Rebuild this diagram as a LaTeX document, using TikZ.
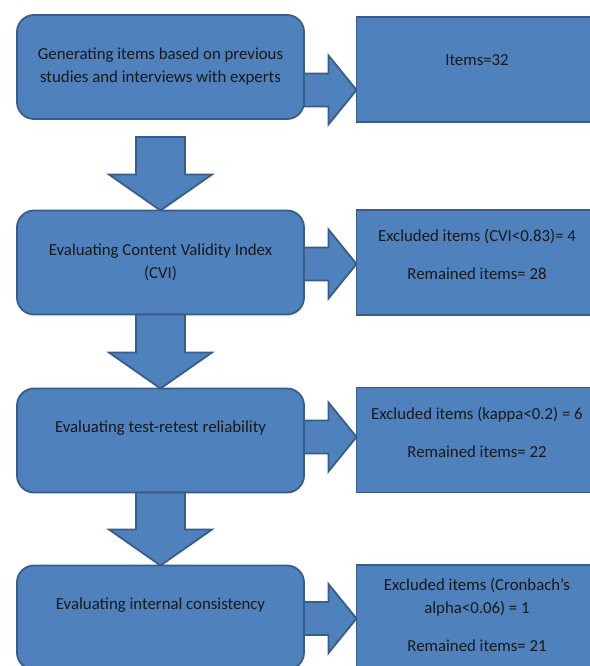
\documentclass[tikz,border=0pt]{standalone}
\usepackage{fontspec}
\setmainfont{Carlito}
\usepackage{xcolor}
\usepackage{tikz}
\usetikzlibrary{calc}

\definecolor{boxfill}{HTML}{4F81BD}
\definecolor{boxline}{HTML}{385D8A}

\tikzset{
  stepbox/.style={draw=boxline, fill=boxfill, line width=1.8pt, rounded corners=17pt,
    minimum width=287pt, minimum height=104pt, outer sep=0pt, inner sep=0pt},
  countbox/.style={draw=boxline, fill=boxfill, line width=1.8pt,
    minimum width=241pt, minimum height=105pt, outer sep=0pt, inner sep=0pt},
  boxtext/.style={align=center, text=black!90, inner sep=0pt,
    font=\fontsize{16.8}{23}\selectfont},
  blockarrow/.style={draw=boxline, fill=boxfill, line width=1.8pt, line join=miter}
}

% block arrows: #1 start, #2 tip
\newcommand{\blockdown}[2]{%
  \draw[blockarrow] let \p1=(#1), \p2=(#2) in
    ({\x2-24.5pt},\y1) -- ({\x2+24.5pt},\y1) -- ({\x2+24.5pt},{\y2+36pt})
    -- ({\x2+51.5pt},{\y2+36pt}) -- (\x2,\y2) -- ({\x2-51.5pt},{\y2+36pt})
    -- ({\x2-24.5pt},{\y2+36pt}) -- cycle;}
\newcommand{\blockright}[2]{%
  \draw[blockarrow] let \p1=(#1), \p2=(#2) in
    (\x1,{\y1+16.5pt}) -- ({\x2-28pt},{\y1+16.5pt}) -- ({\x2-28pt},{\y1+34.5pt})
    -- (\x2,\y1) -- ({\x2-28pt},{\y1-34.5pt}) -- ({\x2-28pt},{\y1-16.5pt})
    -- (\x1,{\y1-16.5pt}) -- cycle;}

\begin{document}
\begin{tikzpicture}[x=1pt, y=-1pt]
    \useasboundingbox (0,0) rectangle (589,666);
    \fill[white] (0,0) rectangle (589,666);

    % Steps
    \node[stepbox] (gen) at (160.5,67) {};
    \node[stepbox] (cvi) at (160.5,262.5) {};
    \node[stepbox] (retest) at (160.5,440.5) {};
    \node[stepbox] (consist) at (160.5,617.5) {};

    % Item counts
    \node[countbox] (items) at (477,69.5) {};
    \node[countbox] (cviout) at (477,262.5) {};
    \node[countbox] (retestout) at (477,440) {};
    \node[countbox] (consistout) at (477,617.5) {};

    % Arrows down
    \blockdown{$(gen.south)+(0,18)$}{cvi.north}
    \blockdown{cvi.south}{retest.north}
    \blockdown{retest.south}{consist.north}

    % Arrows right
    \blockright{$(gen.east)+(0,23)$}{items.west}
    \blockright{$(cvi.east)+(0,1.5)$}{cviout.west}
    \blockright{$(retest.east)+(0,-3.5)$}{retestout.west}
    \blockright{$(consist.east)+(0,1)$}{consistout.west}

    % Texts
    \node[boxtext] (gentxt) at (160.5,66.5) {Generating items based on previous\\studies and interviews with experts};
    \node[boxtext] (cvitxt) at (160.5,262) {Evaluating Content Validity Index\\(CVI)};
    \node[boxtext] (retesttxt) at (160.5,428) {Evaluating test-retest reliability};
    \node[boxtext] (consisttxt) at (160.5,605) {Evaluating internal consistency};
    \node[boxtext] (itemstxt) at (477,60) {Items=32};
    \node[boxtext] (cviouttxt) at (477,254) {Excluded items (CVI<0.83)= 4\\[15pt]Remained items= 28};
    \node[boxtext] (retestouttxt) at (477,432) {Excluded items (kappa<0.2) = 6\\[15pt]Remained items= 22};
    \node[boxtext] (consistouttxt) at (477,614.5) {Excluded items (Cronbach’s\\alpha<0.06) = 1\\[15pt]Remained items= 21};
\end{tikzpicture}
\end{document}
